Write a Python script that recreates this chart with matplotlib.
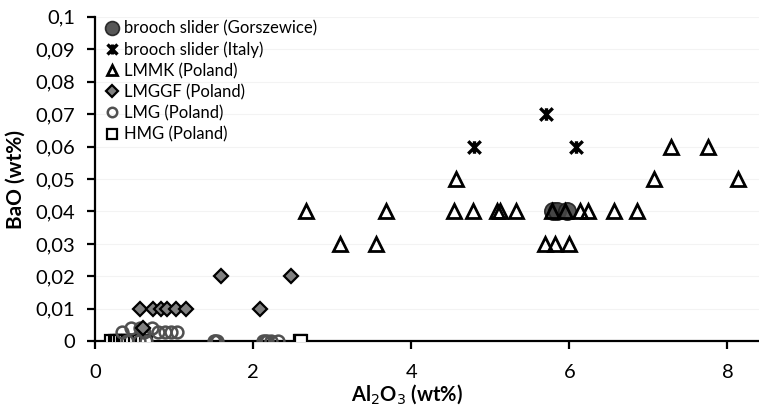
import numpy as np
import matplotlib.pyplot as plt
from matplotlib.path import Path
from matplotlib.ticker import FuncFormatter, MultipleLocator

plt.rcParams['font.family'] = ['Lato', 'DejaVu Sans']

# Al2O3 (x) and BaO (y), wt%
gorszewice_x = [5.80, 5.84, 5.97]
gorszewice_y = [0.04, 0.04, 0.04]

italy_x = [4.79, 5.71, 6.08]
italy_y = [0.06, 0.07, 0.06]

lmmk_x = [2.67, 3.10, 3.56, 3.68, 4.54, 4.57, 4.78, 5.08, 5.12, 5.32,
          5.69, 5.78, 5.82, 5.95, 6.00, 6.13, 6.24, 6.56, 6.86,
          7.07, 7.29, 7.75, 8.14]
lmmk_y = [0.04, 0.03, 0.03, 0.04, 0.04, 0.05, 0.04, 0.04, 0.04, 0.04,
          0.03, 0.04, 0.03, 0.04, 0.03, 0.04, 0.04, 0.04, 0.04,
          0.05, 0.06, 0.06, 0.05]

lmggf_x = [0.57, 0.61, 0.73, 0.84, 0.91, 1.03, 1.15, 1.59, 2.09, 2.48]
lmggf_y = [0.01, 0.004, 0.01, 0.01, 0.01, 0.01, 0.01, 0.02, 0.01, 0.02]

lmg_x = [0.34, 0.46, 0.57, 0.62, 0.72, 0.80, 0.88, 0.96, 1.04,
         0.40, 0.55, 0.65, 1.50, 1.52, 1.54, 2.12, 2.15, 2.18, 2.22, 2.32]
lmg_y = [0.003, 0.004, 0.004, 0.003, 0.004, 0.003, 0.003, 0.003, 0.003,
         0, 0, 0, 0, 0, 0, 0, 0, 0, 0, 0]

hmg_x = [0.20, 0.25, 0.28, 0.32, 0.35, 0.38, 0.42, 0.45, 0.50, 0.55,
         0.60, 0.64, 2.59, 2.61]
hmg_y = [0] * len(hmg_x)

# Excel style "star": an X with a vertical stroke
star = Path([(-1, -1), (1, 1), (-1, 1), (1, -1), (0, -1), (0, 1)],
            [Path.MOVETO, Path.LINETO, Path.MOVETO, Path.LINETO,
             Path.MOVETO, Path.LINETO])

fig = plt.figure(figsize=(7.59, 4.08), dpi=100)
ax = fig.add_axes([0.1252, 0.1635, 0.8748, 0.7955])

ax.plot(hmg_x, hmg_y, ls='none', marker='s', ms=8.5, mfc='white',
        mec='black', mew=1.6, label='HMG (Poland)', zorder=3)
ax.plot(lmg_x, lmg_y, ls='none', marker='o', ms=8.5, mfc='none',
        mec='#505050', mew=1.8, label='LMG (Poland)', zorder=4)
ax.plot(lmggf_x, lmggf_y, ls='none', marker='D', ms=7.5, mfc='#808080',
        mec='black', mew=1.6, label='LMGGF (Poland)', zorder=5)
ax.plot(gorszewice_x, gorszewice_y, ls='none', marker='o', ms=12.5,
        mfc='#444444', mec='#1e1e1e', mew=1.2, alpha=0.9,
        label='brooch slider (Gorszewice)', zorder=6)
ax.plot(lmmk_x, lmmk_y, ls='none', marker='^', ms=9.5, mfc='none',
        mec='black', mew=2, label='LMMK (Poland)', zorder=7)
ax.plot(italy_x, italy_y, ls='none', marker=star, ms=9, mfc='none',
        mec='black', mew=2.4, label='brooch slider (Italy)', zorder=8)

ax.set_xlim(0, 8.4)
ax.set_ylim(0, 0.1)
ax.xaxis.set_major_locator(MultipleLocator(2))
ax.yaxis.set_major_locator(MultipleLocator(0.01))
ax.yaxis.set_major_formatter(FuncFormatter(
    lambda v, p: '0' if abs(v) < 1e-9 else f'{v:.2f}'.rstrip('0').replace('.', ',')))
ax.grid(axis='y', color='#f3f3f3', lw=0.8, zorder=0)
ax.set_axisbelow(True)

for s in ['top', 'right']:
    ax.spines[s].set_visible(False)
for s in ['left', 'bottom']:
    ax.spines[s].set_linewidth(1.6)
ax.tick_params(axis='both', direction='out', length=6, width=1.6,
               labelsize=14.5, colors='black')
ax.tick_params(axis='x', pad=10)
ax.tick_params(axis='y', pad=8.5)

ax.set_xlabel('Al$_2$O$_3$ (wt%)', fontsize=14.5, fontweight='bold')
ax.xaxis.set_label_coords(0.47, -0.125)
ax.set_ylabel('BaO (wt%)', fontsize=15, fontweight='bold')
ax.yaxis.set_label_coords(-0.104, 0.5)

handles, labels = ax.get_legend_handles_labels()
order = ['brooch slider (Gorszewice)', 'brooch slider (Italy)',
         'LMMK (Poland)', 'LMGGF (Poland)', 'LMG (Poland)', 'HMG (Poland)']
hmap = dict(zip(labels, handles))
leg = ax.legend([hmap[o] for o in order], order, loc='upper left',
                bbox_to_anchor=(0.0, 1.02), frameon=False, fontsize=12,
                markerscale=0.8, handlelength=0.8, handletextpad=0.35,
                labelspacing=0.3, borderaxespad=0.2)

fig.savefig('out.png', dpi=100)
